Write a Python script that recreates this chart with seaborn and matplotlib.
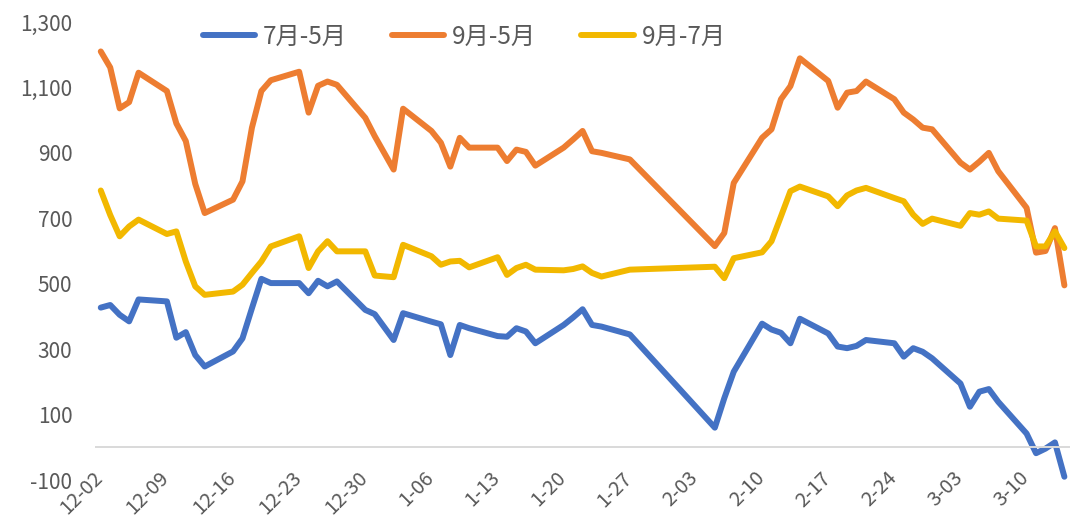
"""Calendar spreads 7月-5月, 9月-5月 and 9月-7月, Dec 2024 to Mar 2025."""

import matplotlib

matplotlib.use("Agg")
import matplotlib.pyplot as plt
import matplotlib.transforms as mtransforms
import numpy as np
import pandas as pd
import seaborn as sns
from matplotlib.lines import Line2D
from matplotlib.ticker import FuncFormatter

# trading days (exchange closed on New Year's day and over the Spring Festival)
holidays = ["2025-01-01", "2025-01-28", "2025-01-29", "2025-01-30",
            "2025-01-31", "2025-02-03", "2025-02-04"]
days = pd.bdate_range("2024-12-02", "2025-03-14")
days = days[~days.isin(pd.to_datetime(holidays))]

spread_7_5 = [
    427, 435, 405, 385, 452, 446, 335, 352, 282, 247, 293, 333, 425, 515, 502,
    502, 471, 509, 492, 507, 420, 407,
    328, 410, 384, 376, 282, 374, 364, 340, 338, 364, 354, 318, 374, 397, 422,
    374, 369, 345,
    60, 150, 231, 378, 360, 350, 318, 393, 348, 308, 303, 310, 328, 318, 277,
    303, 292, 272,
    195, 124, 170, 178, 139, 42, -18, -4, 15, -90,
]
spread_9_5 = [
    1210, 1161, 1036, 1055, 1145, 1089, 990, 936, 805, 716, 757, 813, 977, 1089,
    1122, 1148, 1023, 1105, 1118, 1108, 1007, 951,
    849, 1035, 967, 931, 858, 946, 916, 916, 875, 910, 903, 861, 916, 941, 967,
    905, 900, 880,
    615, 655, 808, 946, 972, 1064, 1104, 1189, 1120, 1038, 1084, 1089, 1118,
    1064, 1023, 1002, 977, 972,
    870, 849, 873, 900, 844, 732, 595, 600, 670, 495,
]
spread_9_7 = [
    785, 710, 645, 675, 696, 652, 660, 568, 492, 466, 476, 497, 533, 568, 614,
    645, 548, 599, 630, 599, 599, 525,
    520, 619, 584, 558, 568, 570, 550, 581, 527, 548, 558, 543, 541, 545, 553,
    533, 522, 543,
    552, 517, 578, 596, 630, 706, 783, 797, 767, 737, 770, 785, 793, 762, 752,
    711, 683, 699,
    677, 716, 711, 721, 699, 693, 614, 614, 660, 609,
]

series_names = ["7月-5月", "9月-5月", "9月-7月"]
colors = ["#4472C4", "#ED7D31", "#F2B800"]
tick_dates = pd.date_range("2024-12-02", "2025-03-10", freq="7D")
y_ticks = np.arange(-100, 1301, 200)

# long table for seaborn; Excel date axis puts each point mid-day
df = pd.DataFrame({
    "date": np.tile(days + pd.Timedelta(hours=12), 3),
    "value": spread_7_5 + spread_9_5 + spread_9_7,
    "series": np.repeat(series_names, len(days)),
})

sns.set_style("white")
plt.rcParams["font.family"] = ["Noto Sans CJK SC", "DejaVu Sans"]

fig = plt.figure(figsize=(10.72, 5.19), dpi=100)
ax = fig.add_axes([0.0896, 0.0751, 0.9077, 0.8825])

sns.lineplot(
    data=df, x="date", y="value", hue="series", hue_order=series_names,
    palette=colors, estimator=None, linewidth=4.3, legend=False, ax=ax,
    solid_capstyle="round", solid_joinstyle="round",
)

ax.set_xlim(pd.Timestamp("2024-12-02"), pd.Timestamp("2025-03-15"))
ax.set_ylim(-100, 1300)
ax.set_yticks(y_ticks)
ax.yaxis.set_major_formatter(FuncFormatter(lambda v, _: f"{int(v):,}"))
ax.set_xticks(tick_dates)
ax.set_xticklabels([f"{d.month}-{d.day:02d}" for d in tick_dates])
ax.set_xlabel("")
ax.set_ylabel("")
ax.grid(False)

for side in ["left", "right", "top"]:
    ax.spines[side].set_visible(False)
ax.spines["bottom"].set_position(("data", 0))
ax.spines["bottom"].set_color("#D9D9D9")
ax.spines["bottom"].set_linewidth(1.4)

ax.tick_params(axis="y", length=0, pad=17, labelsize=15, labelcolor="#595959")
ax.tick_params(axis="x", direction="out", length=5, width=1.4, color="#D9D9D9",
               pad=15, labelsize=14.5, labelcolor="#595959")
shift = mtransforms.ScaledTranslation(4 / 100, 0, fig.dpi_scale_trans)
for lab in ax.get_xticklabels():
    lab.set_rotation(45)
    lab.set_ha("right")
    lab.set_va("center")
    lab.set_rotation_mode("anchor")
    lab.set_transform(lab.get_transform() + shift)

handles = [Line2D([], [], color=c, linewidth=4.3, solid_capstyle="round")
           for c in colors]
fig.legend(handles, series_names, loc="center", bbox_to_anchor=(0.433, 0.929),
           ncol=3, frameon=False, fontsize=17.5, labelcolor="#595959",
           handlelength=2.15, handletextpad=0.33, columnspacing=1.85)

fig.savefig("out.png", dpi=100, facecolor="white")
